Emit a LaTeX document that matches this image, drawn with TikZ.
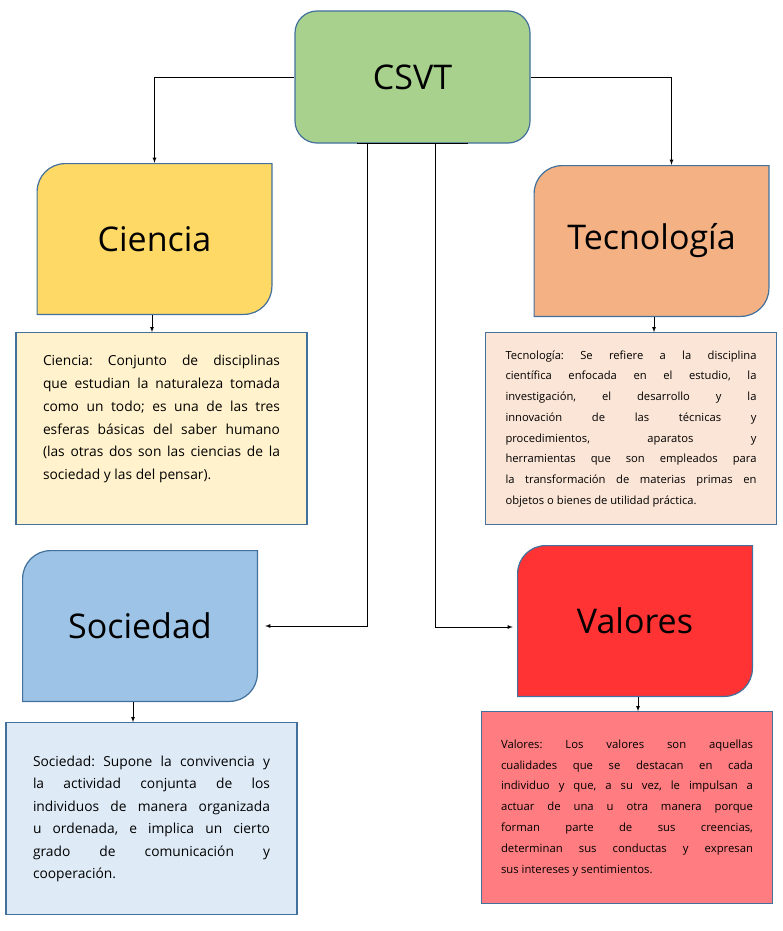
\documentclass[tikz,border=0pt]{standalone}
\usepackage{fontspec}
\setmainfont{Open Sans}
\usetikzlibrary{positioning}
\definecolor{edgeblue}{HTML}{41719C}
\definecolor{csvtgreen}{HTML}{A9D18E}
\definecolor{cienyellow}{HTML}{FFD966}
\definecolor{tecnorange}{HTML}{F4B183}
\definecolor{sociblue}{HTML}{9DC3E6}
\definecolor{valored}{HTML}{FF3333}
\definecolor{ciendesc}{HTML}{FFF2CC}
\definecolor{tecndesc}{HTML}{FBE5D6}
\definecolor{socidesc}{HTML}{DEEBF7}
\definecolor{valodesc}{HTML}{FF7C80}
\newcommand{\padline}{\par\mbox{}}
\tikzset{
  link/.style = {draw=black, line width=0.8pt, -latex},
  card/.style = {rectangle, minimum width=236pt, minimum height=152pt, inner sep=0pt,
    font=\fontsize{34}{40}\selectfont,
    path picture={
      \draw[draw=edgeblue, line width=1.2pt, fill=#1]
        ([shift={(0.6pt,0.6pt)}]path picture bounding box.south west)
        -- ++(0,122.8pt) arc[start angle=180, end angle=90, radius=28pt]
        -- ++(206.8pt,0) -- ++(0,-122.8pt)
        arc[start angle=0, end angle=-90, radius=28pt] -- cycle;
    }},
  desc/.style = {rectangle, draw=edgeblue, line width=1.2pt, fill=#1,
    minimum width=291pt, minimum height=192pt, align=justify,
    execute at begin node=\frenchspacing}
}
\begin{document}
\begin{tikzpicture}
  \useasboundingbox (0,0) rectangle (782pt,-931pt);

  % main topic
  \node[draw=edgeblue, line width=1.2pt, fill=csvtgreen, rounded corners=22pt,
        minimum width=235pt, minimum height=132pt,
        font=\fontsize{34}{40}\selectfont] (csvt) at (412.5pt,-77pt) {CSVT};

  % branches
  \node[card=cienyellow] (cien) at (154.5pt,-239pt) {Ciencia};
  \node[card=tecnorange] (tecn) at (651.5pt,-241pt) {Tecnología};
  \node[card=sociblue] (soci) at (140pt,-626pt) {Sociedad};
  \node[card=valored] (valo) at (635pt,-621pt) {Valores};

  % definitions
  \node[desc=ciendesc, text width=237pt, below=17pt of cien, xshift=7pt,
        font=\fontsize{13.8}{22.7}\selectfont] (cienTxt)
    {Ciencia: Conjunto de disciplinas\linebreak que estudian la naturaleza tomada\linebreak
     como un todo; es una de las tres\linebreak esferas básicas del saber humano\linebreak
     (las otras dos son las ciencias de la\linebreak sociedad y las del pensar).\padline};
  \node[desc=tecndesc, text width=251pt, below=15pt of tecn, xshift=-20.5pt,
        font=\fontsize{11.2}{20.7}\selectfont] (tecnTxt)
    {Tecnología: Se refiere a la disciplina\linebreak científica enfocada en el estudio, la\linebreak
     investigación, el desarrollo y la\linebreak innovación de las técnicas y\linebreak
     procedimientos, aparatos y\linebreak herramientas que son empleados para\linebreak
     la transformación de materias primas en\linebreak objetos o bienes de utilidad práctica.};
  \node[desc=socidesc, text width=237pt, below=20pt of soci, xshift=11.5pt,
        font=\fontsize{13.8}{22.5}\selectfont] (sociTxt)
    {Sociedad: Supone la convivencia y\linebreak la actividad conjunta de los\linebreak
     individuos de manera organizada\linebreak u ordenada, e implica un cierto\linebreak
     grado de comunicación y\linebreak cooperación.};
  \node[desc=valodesc, text width=252pt, below=14pt of valo, xshift=-8pt,
        font=\fontsize{11.3}{20.8}\selectfont] (valoTxt)
    {Valores: Los valores son aquellas\linebreak cualidades que se destacan en cada\linebreak
     individuo y que, a su vez, le impulsan a\linebreak actuar de una u otra manera porque\linebreak
     forman parte de sus creencias,\linebreak determinan sus conductas y expresan\linebreak
     sus intereses y sentimientos.};

  % connectors
  \draw[link] (csvt.west) -| (cien.north);
  \draw[link] (csvt.east) -| ([xshift=20pt]tecn.north);
  \draw[line width=0.8pt] ([xshift=-55.5pt]csvt.south) -- ([xshift=55.5pt]csvt.south);
  \draw[link] ([xshift=-45.5pt]csvt.south) |- ([xshift=7pt]soci.east);
  \draw[link] ([xshift=22.5pt]csvt.south) |- ([xshift=-4pt,yshift=-6pt]valo.west);
  \draw[link] ([xshift=-2.5pt]cien.south) -- ([xshift=-2.5pt]cien.south |- cienTxt.north);
  \draw[link] ([xshift=2.5pt]tecn.south) -- ([xshift=2.5pt]tecn.south |- tecnTxt.north);
  \draw[link] ([xshift=-7pt]soci.south) -- ([xshift=-7pt]soci.south |- sociTxt.north);
  \draw[link] ([xshift=3pt]valo.south) -- ([xshift=3pt]valo.south |- valoTxt.north);
\end{tikzpicture}
\end{document}
